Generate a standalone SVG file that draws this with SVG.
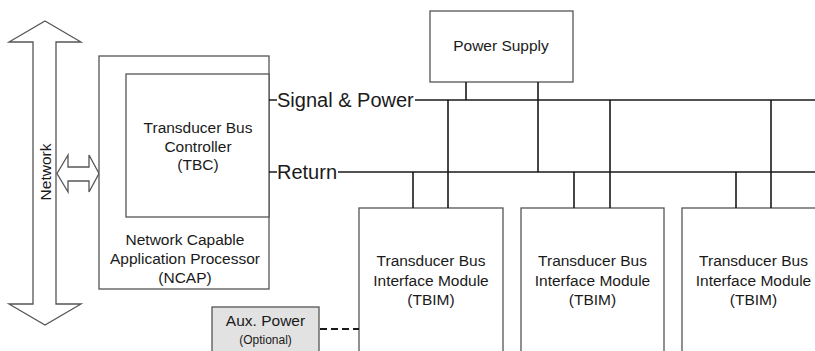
<svg xmlns="http://www.w3.org/2000/svg" width="815" height="351" viewBox="0 0 815 351">
<style>
text{font-family:"Liberation Sans",Arial,sans-serif;fill:#1a1a1a;text-anchor:middle;font-size:15.5px}
.box{fill:#fff;stroke:#555;stroke-width:1.3}
.arrow{fill:#fff;stroke:#555;stroke-width:1.3;stroke-linejoin:miter}
.bus{stroke:#1a1a1a;stroke-width:1.6;fill:none}
.lbl{text-anchor:start;font-size:20px}
</style>
<rect width="815" height="351" fill="#fff"/>
<g id="network">
<polygon class="arrow" points="45,21 81,42 56,42 56,304 81,304 45,325 9,304 33,304 33,42 9,42"/>
<text transform="translate(50.5,172) rotate(-90)">Network</text>
</g>
<g id="ncap-link">
<polygon class="arrow" points="57,173.5 68,155 68,167 89,167 89,155 99,173.5 89,192 89,181 68,181 68,192"/>
</g>
<g id="ncap">
<rect class="box" x="99" y="56" width="170" height="233"/>
<text x="185" y="245">Network Capable</text>
<text x="185" y="264">Application Processor</text>
<text x="185" y="282.5">(NCAP)</text>
</g>
<g id="tbc">
<rect class="box" x="126" y="74" width="143" height="143"/>
<text x="198" y="133">Transducer Bus</text>
<text x="198" y="151.5">Controller</text>
<text x="198" y="170">(TBC)</text>
</g>
<g id="power-supply">
<rect class="box" x="430" y="11" width="143" height="71"/>
<text x="501" y="51">Power Supply</text>
</g>
<g id="tbim1">
<rect class="box" x="359" y="208" width="144" height="160"/>
<text x="431" y="266">Transducer Bus</text>
<text x="431" y="285.5">Interface Module</text>
<text x="431" y="304.5">(TBIM)</text>
</g>
<g id="tbim2">
<rect class="box" x="521" y="208" width="143" height="160"/>
<text x="592.5" y="266">Transducer Bus</text>
<text x="592.5" y="285.5">Interface Module</text>
<text x="592.5" y="304.5">(TBIM)</text>
</g>
<g id="tbim3">
<rect class="box" x="682" y="208" width="144" height="160"/>
<text x="753.5" y="266">Transducer Bus</text>
<text x="753.5" y="285.5">Interface Module</text>
<text x="753.5" y="304.5">(TBIM)</text>
</g>
<g id="aux-power">
<rect x="212" y="307" width="107" height="60" fill="#e2e2e2" stroke="#555" stroke-width="1.3"/>
<text x="265.5" y="325.5">Aux. Power</text>
<text x="265.5" y="344" style="font-size:12px">(Optional)</text>
</g>
<g id="bus-labels">
<text class="lbl" x="277" y="107">Signal &amp; Power</text>
<text class="lbl" x="277" y="179">Return</text>
</g>
<g id="connectors">
<path class="bus" d="M269,100H277M415,100H815M269,172H277M338,172H815"/>
<path class="bus" d="M466,82V100M538,82V172"/>
<path class="bus" d="M413,172V208M448,100V208"/>
<path class="bus" d="M574,172V208M610,100V208"/>
<path class="bus" d="M736,172V208M771,100V208"/>
<path d="M320,329H359" stroke="#1a1a1a" stroke-width="2" stroke-dasharray="7,4"/>
</g>
</svg>
